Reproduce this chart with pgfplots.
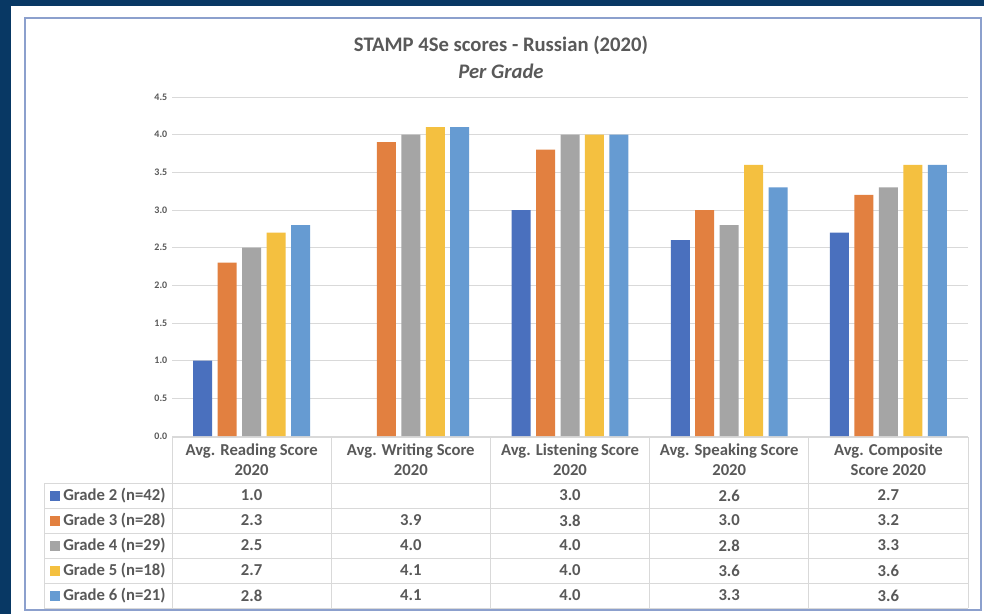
\documentclass[border=0pt]{standalone}
\usepackage{pgfplots}
\pgfplotsset{compat=1.18}
\usepackage{fontspec}
\setmainfont{Carlito}

\definecolor{navy}{RGB}{8,56,100}
\definecolor{frame}{RGB}{140,160,205}
\definecolor{txt}{RGB}{89,89,89}
\definecolor{gridc}{RGB}{217,217,217}
\definecolor{gA}{RGB}{74,112,190}
\definecolor{gB}{RGB}{226,128,64}
\definecolor{gC}{RGB}{165,165,165}
\definecolor{gD}{RGB}{244,192,64}
\definecolor{gE}{RGB}{102,155,210}

\begin{document}
\begin{tikzpicture}[x=0.75pt, y=-0.75pt]
% page and panel (pixel coordinates, y downwards)
\fill[navy] (0,0) rectangle (984,614);
\fill[white] (11,6) rectangle (984,614);
\draw[frame, line width=1.1pt] (25,18) rectangle (981,610);

\node[txt, font=\fontsize{15.5}{18}\selectfont\bfseries] at (501,45) {STAMP 4Se scores - Russian (2020)};
\node[txt, font=\fontsize{15.5}{18}\selectfont\bfseries\itshape] at (501,71) {Per Grade};

\begin{axis}[
    at={(129pt,-327pt)}, anchor=south west,
    scale only axis,
    width=597pt, height=254.25pt,
    xmin=-0.5, xmax=4.5,
    ymin=0, ymax=4.5,
    xtick=\empty,
    ytick={0,0.5,...,4.5},
    ymajorgrids=true,
    grid style={gridc, line width=0.75pt},
    axis line style={draw=none},
    tick style={draw=none},
    yticklabel style={/pgf/number format/.cd, fixed, fixed zerofill, precision=1, assume math mode=true},
    ticklabel style={font=\fontsize{7.5}{9}\selectfont\bfseries, text=txt},
    ybar=4.1pt, bar width=14.25pt,
    every axis plot/.append style={draw=none},
]
\addplot[fill=gA] coordinates {(0,1.0) (2,3.0) (3,2.6) (4,2.7)};
\addplot[fill=gB] coordinates {(0,2.3) (1,3.9) (2,3.8) (3,3.0) (4,3.2)};
\addplot[fill=gC] coordinates {(0,2.5) (1,4.0) (2,4.0) (3,2.8) (4,3.3)};
\addplot[fill=gD] coordinates {(0,2.7) (1,4.1) (2,4.0) (3,3.6) (4,3.6)};
\addplot[fill=gE] coordinates {(0,2.8) (1,4.1) (2,4.0) (3,3.3) (4,3.6)};
\end{axis}

% data table below the plot
\begin{scope}[gridc, line width=0.75pt]
\draw (172,437) -- (968,437);
\foreach \y in {483,508,533,558,583,608} \draw (44,\y) -- (968,\y);
\draw (44,483) -- (44,608);
\foreach \x in {172,331.2,490.4,649.6,808.8,968} \draw (\x,437) -- (\x,608);
\end{scope}

\begin{scope}[every node/.style={txt, font=\fontsize{12.5}{15}\selectfont\bfseries, align=center}]
\node at (251.6,460) {Avg. Reading Score\\2020};
\node at (410.8,460) {Avg. Writing Score\\2020};
\node at (570,460) {Avg. Listening Score\\2020};
\node at (729.2,460) {Avg. Speaking Score\\2020};
\node at (888.4,460) {Avg. Composite\\Score 2020};

\foreach \c/\lab/\i in {gA/Grade 2 (n=42)/0, gB/Grade 3 (n=28)/1, gC/Grade 4 (n=29)/2, gD/Grade 5 (n=18)/3, gE/Grade 6 (n=21)/4} {
  \fill[\c] (50,490.5+25*\i) rectangle (60,500.5+25*\i);
  \node[anchor=west, inner sep=0pt] at (63,495.5+25*\i) {\lab};
}

\foreach \a/\b/\c/\d/\e/\i in {1.0//3.0/2.6/2.7/0, 2.3/3.9/3.8/3.0/3.2/1, 2.5/4.0/4.0/2.8/3.3/2, 2.7/4.1/4.0/3.6/3.6/3, 2.8/4.1/4.0/3.3/3.6/4} {
  \node at (251.6,495.5+25*\i) {\a};
  \node at (410.8,495.5+25*\i) {\b};
  \node at (570,495.5+25*\i) {\c};
  \node at (729.2,495.5+25*\i) {\d};
  \node at (888.4,495.5+25*\i) {\e};
}
\end{scope}
\end{tikzpicture}
\end{document}
